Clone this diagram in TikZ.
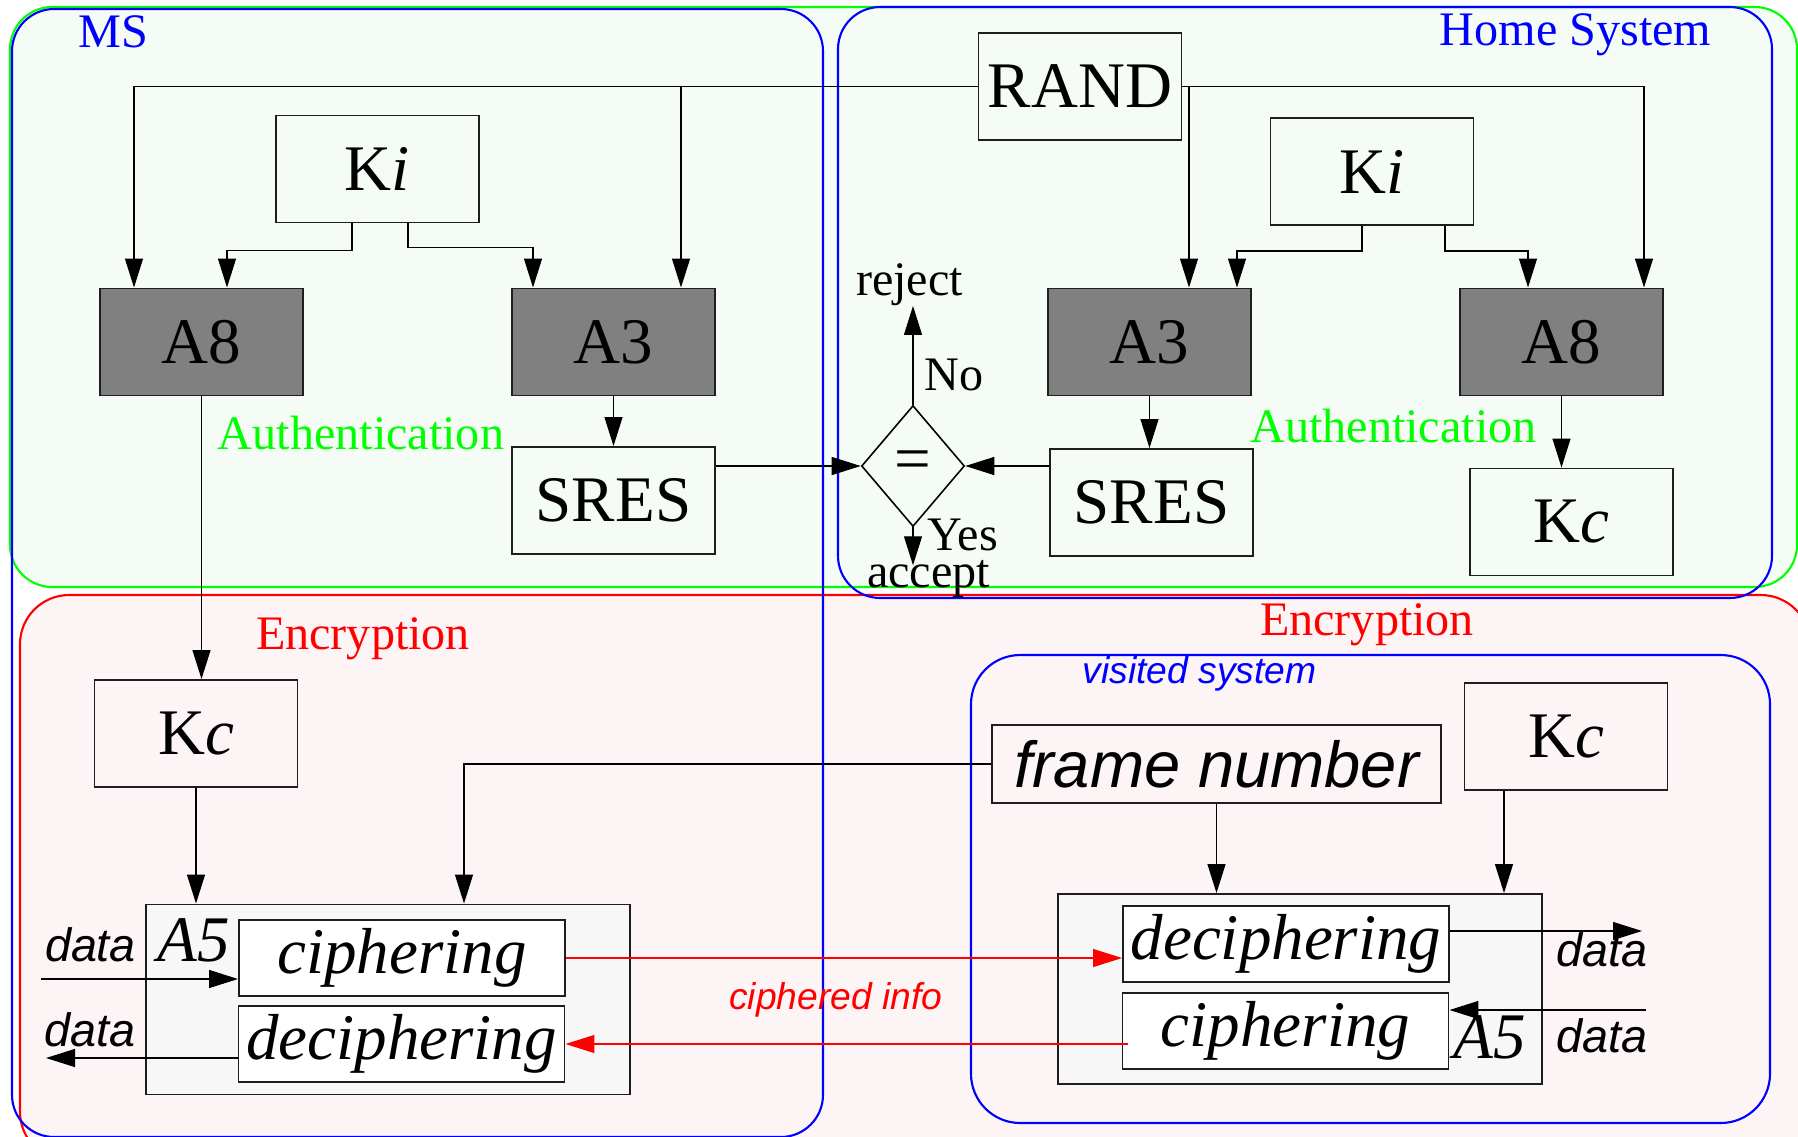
\documentclass[tikz,border=0pt]{standalone}
\usepackage{fontspec}
\setmainfont{Liberation Serif}
\setsansfont{Liberation Sans}
\usetikzlibrary{arrows.meta,positioning,calc,shapes.geometric}
\definecolor{AuthGreen}{HTML}{00FF00}
\definecolor{EncRed}{HTML}{FF0000}
\definecolor{SysBlue}{HTML}{0000FF}
\definecolor{AuthPlate}{HTML}{F5FCF5}
\definecolor{EncPlate}{HTML}{FDF5F5}
\definecolor{AlgoGray}{HTML}{808080}
\definecolor{CipherPlate}{HTML}{F7F7F7}
\definecolor{Edge}{HTML}{1E1E1E}
\tikzset{
  flowarrow/.style={-{Triangle[length=2.9mm,width=1.8mm]}, line width=0.35pt, draw=black},
  redarrow/.style={-{Triangle[length=2.9mm,width=1.8mm]}, line width=0.35pt, draw=EncRed},
  keybox/.style={draw=Edge, line width=0.55pt, minimum width=2.03cm, minimum height=1.07cm, inner sep=0pt, font=\fontsize{18.5}{20}\selectfont},
  algobox/.style={keybox, fill=AlgoGray},
  cipherbox/.style={draw=Edge, fill=white, line width=0.55pt, minimum width=3.26cm, minimum height=0.76cm, inner sep=0pt, font=\fontsize{18.5}{20}\selectfont\itshape},
  a5box/.style={draw=Edge, fill=CipherPlate, line width=0.55pt, minimum width=4.84cm, minimum height=1.9cm, inner sep=0pt},
  zonebox/.style={line width=0.6pt, rounded corners=12pt},
  labeltext/.style={font=\fontsize{13.7}{15}\selectfont, inner sep=0pt, anchor=base},
  datatext/.style={font=\fontsize{13.3}{15}\selectfont\sffamily\itshape, inner sep=0pt, anchor=base},
  smalltext/.style={font=\fontsize{10.6}{12}\selectfont\sffamily\itshape, inner sep=0pt, anchor=base},
}

\begin{document}
\begin{tikzpicture}[x=1cm,y=1cm]
\path[use as bounding box] (0,0) rectangle (17.98,11.36);
\begin{scope}
\clip (0,0) rectangle (17.98,11.36);
% authentication and encryption zones
\fill[AuthPlate,zonebox] (0.10,11.29) rectangle (17.97,5.49);
\fill[EncPlate,zonebox,rounded corners=14pt] (0.20,5.41) rectangle (18.10,-0.25);
\draw[AuthGreen,zonebox] (0.10,11.29) rectangle (17.97,5.49);
\draw[EncRed,zonebox,rounded corners=14pt] (0.20,5.41) rectangle (18.10,-0.25);

% system frames
\draw[SysBlue,zonebox] (0.12,11.27) rectangle (8.23,-0.01);
\draw[SysBlue,zonebox] (8.38,11.29) rectangle (17.72,5.38);
\draw[SysBlue,zonebox,rounded corners=14pt] (9.71,4.81) rectangle (17.70,0.13);
\end{scope}

\node[labeltext,text=SysBlue] (ms) at (1.13,10.89) {MS};
\node[labeltext,text=SysBlue] (homesys) at (15.755,10.91) {Home System};

% mobile station, authentication
\node[keybox] (rand) at (10.80,10.495) {RAND};
\node[keybox] (kil) at (3.775,9.67) {K\textit{i}};
\node[algobox] (a8l) at (2.015,7.94) {A8};
\node[algobox] (a3l) at (6.135,7.94) {A3};
\node[keybox] (sresl) at (6.135,6.355) {SRES};
\node[labeltext,text=AuthGreen] (authl) at (3.61,6.87) {Authentication};
\draw[flowarrow] (rand.west) -| ([xshift=-6.75mm]a8l.north);
\draw[flowarrow] ([xshift=6.75mm]a3l.north |- rand.west) -- ([xshift=6.75mm]a3l.north);
\draw[flowarrow] ([xshift=-2.55mm]kil.south) -- ++(0,-0.27) -| ([xshift=2.55mm]a8l.north);
\draw[flowarrow] ([xshift=3.05mm]kil.south) -- ++(0,-0.24) -| ([xshift=-8.05mm]a3l.north);
\draw[flowarrow] (a3l.south) -- (sresl.north);

% home system, authentication
\node[keybox] (kih) at (13.72,9.645) {K\textit{i}};
\node[algobox] (a3h) at (11.495,7.94) {A3};
\node[algobox] (a8h) at (15.615,7.94) {A8};
\node[keybox] (sresh) at (11.515,6.335) {SRES};
\node[keybox] (kch) at (15.715,6.14) {K\textit{c}};
\node[labeltext,text=AuthGreen] (authh) at (13.935,6.94) {Authentication};
\draw[flowarrow] (rand.east) -| ([xshift=8.25mm]a8h.north);
\draw[flowarrow] ([xshift=3.95mm]a3h.north |- rand.east) -- ([xshift=3.95mm]a3h.north);
\draw[flowarrow] ([xshift=-1mm]kih.south) -- ++(0,-0.25) -| ([xshift=8.75mm]a3h.north);
\draw[flowarrow] ([xshift=7.3mm]kih.south) -- ++(0,-0.25) -| ([xshift=-3.35mm]a8h.north);
\draw[flowarrow] (a3h.south) -- (a3h.south |- sresh.north);
\draw[flowarrow] (a8h.south) -- (a8h.south |- kch.north);

% comparison
\node[diamond,draw=black,line width=0.45pt,minimum width=1.03cm,minimum height=1.21cm,inner sep=0pt,font=\fontsize{18.5}{20}\selectfont] (eq) at (9.13,6.70) {=};
\node[labeltext] (reject) at (9.095,8.41) {reject};
\node[labeltext] (no) at (9.54,7.46) {No};
\node[labeltext] (yes) at (9.63,5.86) {Yes};
\node[labeltext] (accept) at (9.285,5.49) {accept};
\draw[flowarrow] (sresl.east |- eq.west) -- (eq.west);
\draw[flowarrow] (sresh.west |- eq.east) -- (eq.east);
\draw[flowarrow] (eq.north) -- (eq.north |- reject.south);
\draw[flowarrow] (eq.south) -- ++(0,-0.38);

% mobile station, encryption
\node[labeltext,text=EncRed] (encl) at (3.63,4.87) {Encryption};
\node[keybox] (kcl) at (1.96,4.025) {K\textit{c}};
\node[a5box] (a5l) at (3.88,1.365) {};
\node[cipherbox] (cipl) at (4.02,1.78) {ciphering};
\node[cipherbox] (decl) at (4.015,0.92) {deciphering};
\node[labeltext,font=\fontsize{18.5}{20}\selectfont\itshape] (a5lab) at (1.94,1.75) {A5};
\draw[flowarrow] (a8l.south) -- (a8l.south |- kcl.north);
\draw[flowarrow] (kcl.south) -- (kcl.south |- a5l.north);

% visited system, encryption
\node[labeltext,text=EncRed] (ench) at (13.67,5.01) {Encryption};
\node[smalltext,text=SysBlue] (visited) at (11.995,4.53) {visited system};
\node[keybox,minimum width=4.49cm,minimum height=0.78cm,font=\fontsize{18.5}{20}\selectfont\sffamily\itshape] (fn) at (12.165,3.72) {frame number};
\node[keybox] (kcv) at (15.66,3.995) {K\textit{c}};
\node[a5box] (a5h) at (13.0,1.47) {};
\node[cipherbox] (dech) at (12.86,1.92) {deciphering};
\node[cipherbox] (ciph) at (12.855,1.05) {ciphering};
\node[labeltext,font=\fontsize{18.5}{20}\selectfont\itshape] (a5hlab) at (14.895,0.78) {A5};
\draw[flowarrow] (fn.west) -| ([xshift=7.6mm]a5l.north);
\draw[flowarrow] (fn.south) -- (fn.south |- a5h.north);
\draw[flowarrow] ([xshift=-6.2mm]kcv.south) -- ([xshift=-6.2mm]kcv.south |- a5h.north);

% radio link
\draw[redarrow] (cipl.east) -- (cipl.east -| dech.west);
\draw[redarrow] ([xshift=0.6mm]ciph.west |- decl.east) -- (decl.east);
\node[smalltext,text=EncRed] (cinfo) at (8.36,1.27) {ciphered info};

% plain data in and out
\foreach \nm/\x/\y in {dl1/0.905/1.75,dl2/0.90/0.90,dh1/16.02/1.70,dh2/16.02/0.84}{
  \node[datatext] (\nm) at (\x,\y) {data};
}
\coordinate (dinl) at (0.41,1.57);
\coordinate (doutl) at (0.46,0.78);
\coordinate (douth) at (16.42,2.05);
\coordinate (dinh) at (16.46,1.26);
\draw[flowarrow] (dinl) -- (dinl -| cipl.west);
\draw[flowarrow] (decl.west |- doutl) -- (doutl);
\draw[flowarrow] (dech.east |- douth) -- (douth);
\draw[flowarrow] (dinh) -- (dinh -| ciph.east);
\end{tikzpicture}
\end{document}
